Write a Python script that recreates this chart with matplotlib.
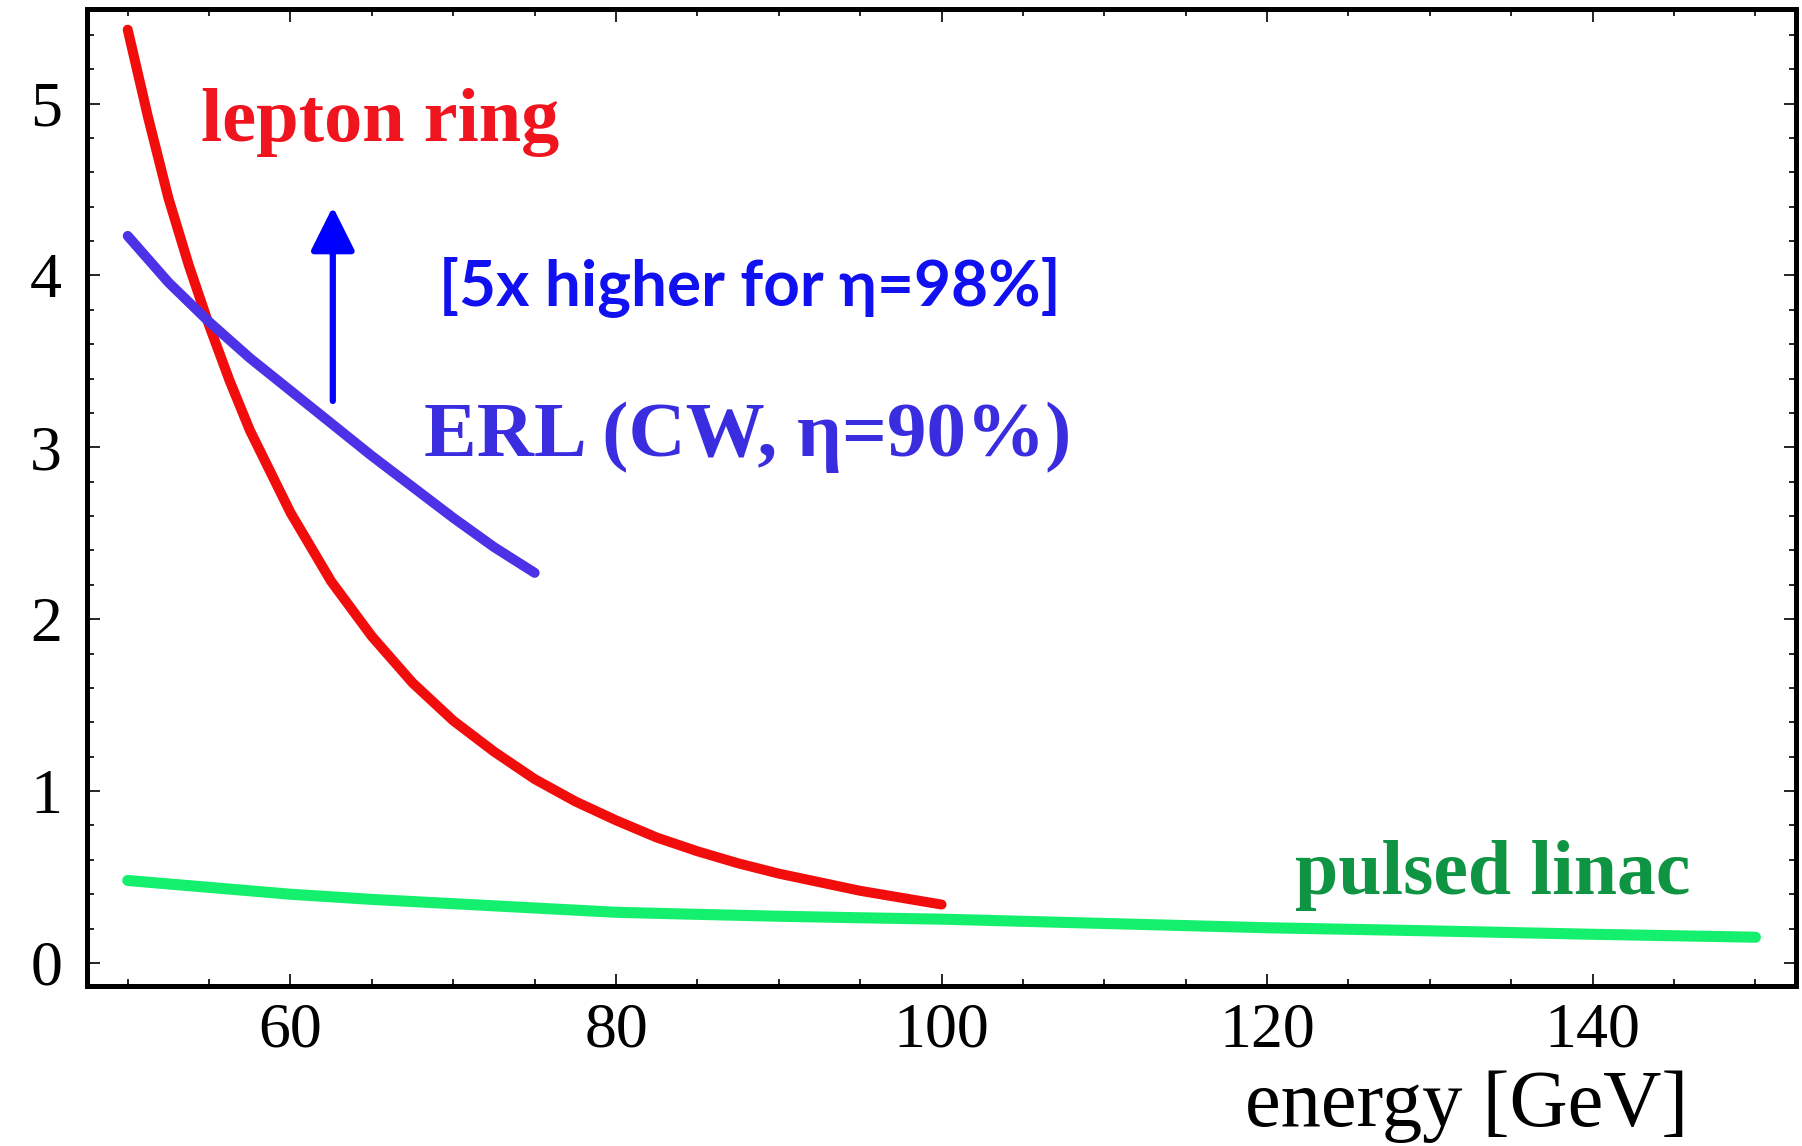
import numpy as np
import matplotlib.pyplot as plt
from matplotlib.ticker import MultipleLocator

# values
ring_e = [50, 51.25, 52.5, 53.75, 55, 56.25, 57.5, 60, 62.5, 65, 67.5, 70,
          72.5, 75, 77.5, 80, 82.5, 85, 87.5, 90, 92.5, 95, 97.5, 100]
ring_v = [5.43, 4.92, 4.45, 4.06, 3.71, 3.39, 3.10, 2.62, 2.22, 1.90, 1.63,
          1.41, 1.23, 1.07, 0.94, 0.83, 0.73, 0.65, 0.58, 0.52, 0.47, 0.42,
          0.38, 0.34]

erl_e = [50, 52.5, 55, 57.5, 60, 62.5, 65, 67.5, 70, 72.5, 75]
erl_v = [4.23, 3.96, 3.73, 3.52, 3.33, 3.14, 2.95, 2.77, 2.59, 2.42, 2.27]

linac_e = [50, 55, 60, 65, 70, 75, 80, 85, 90, 95, 100, 110, 120, 130, 140, 150]
linac_v = [0.48, 0.44, 0.40, 0.37, 0.345, 0.32, 0.295, 0.283, 0.272, 0.263,
           0.255, 0.23, 0.205, 0.187, 0.167, 0.15]

x_ticks = [60, 80, 100, 120, 140]
y_ticks = [0, 1, 2, 3, 4, 5]

serif = ['Liberation Serif', 'DejaVu Serif']

fig = plt.figure(figsize=(18.02, 11.46), dpi=100)
ax = fig.add_axes([0.0483, 0.1396, 0.9484, 0.8525])

ax.plot(linac_e, linac_v, color='#14f06e', lw=8, solid_capstyle='round')
ax.plot(ring_e, ring_v, color='#f20d0d', lw=7.2, solid_capstyle='round',
        solid_joinstyle='round')
ax.plot(erl_e, erl_v, color='#4b32e6', lw=7.2, solid_capstyle='round',
        solid_joinstyle='round')

ax.annotate('', xy=(62.6, 4.40), xytext=(62.6, 3.27),
            arrowprops=dict(arrowstyle='-|>,head_length=2.7,head_width=1.35',
                            color='#0000ff', lw=4.5, shrinkA=0, shrinkB=0))

ax.text(54.5, 4.78, 'lepton ring', color='#f0141e', fontsize=55,
        fontweight='bold', family=serif, va='baseline')
ax.text(68.2, 2.95, 'ERL (CW, η=90%)', color='#3a2de0', fontsize=57,
        fontweight='bold', family=serif, va='baseline')
ax.text(69.1, 3.83, '[5x higher for η=98%]', color='#1010f0', fontsize=46,
        fontweight='bold', family=['Lato', 'DejaVu Sans'], va='baseline')
ax.text(121.7, 0.40, 'pulsed linac', color='#0e9442', fontsize=56,
        fontweight='bold', family=serif, va='baseline')

ax.set_xlim(47.5, 152.5)
ax.set_ylim(-0.134, 5.55)
ax.set_xticks(x_ticks)
ax.set_yticks(y_ticks)
ax.xaxis.set_minor_locator(MultipleLocator(5))
ax.yaxis.set_minor_locator(MultipleLocator(0.2))
ax.tick_params(which='both', direction='in', top=True, right=True, width=1.2)
ax.tick_params(which='major', length=9)
ax.tick_params(which='minor', length=5)
ax.tick_params(axis='x', which='major', pad=12)
ax.tick_params(axis='y', which='major', pad=18)
for lab in ax.get_xticklabels() + ax.get_yticklabels():
    lab.set_family(serif)
    lab.set_fontsize(46)
for s in ax.spines.values():
    s.set_linewidth(3.6)

fig.text(0.937, 0.0175, 'energy [GeV]', fontsize=58, family=serif,
         ha='right', va='baseline')

fig.savefig('out.png', dpi=100)
